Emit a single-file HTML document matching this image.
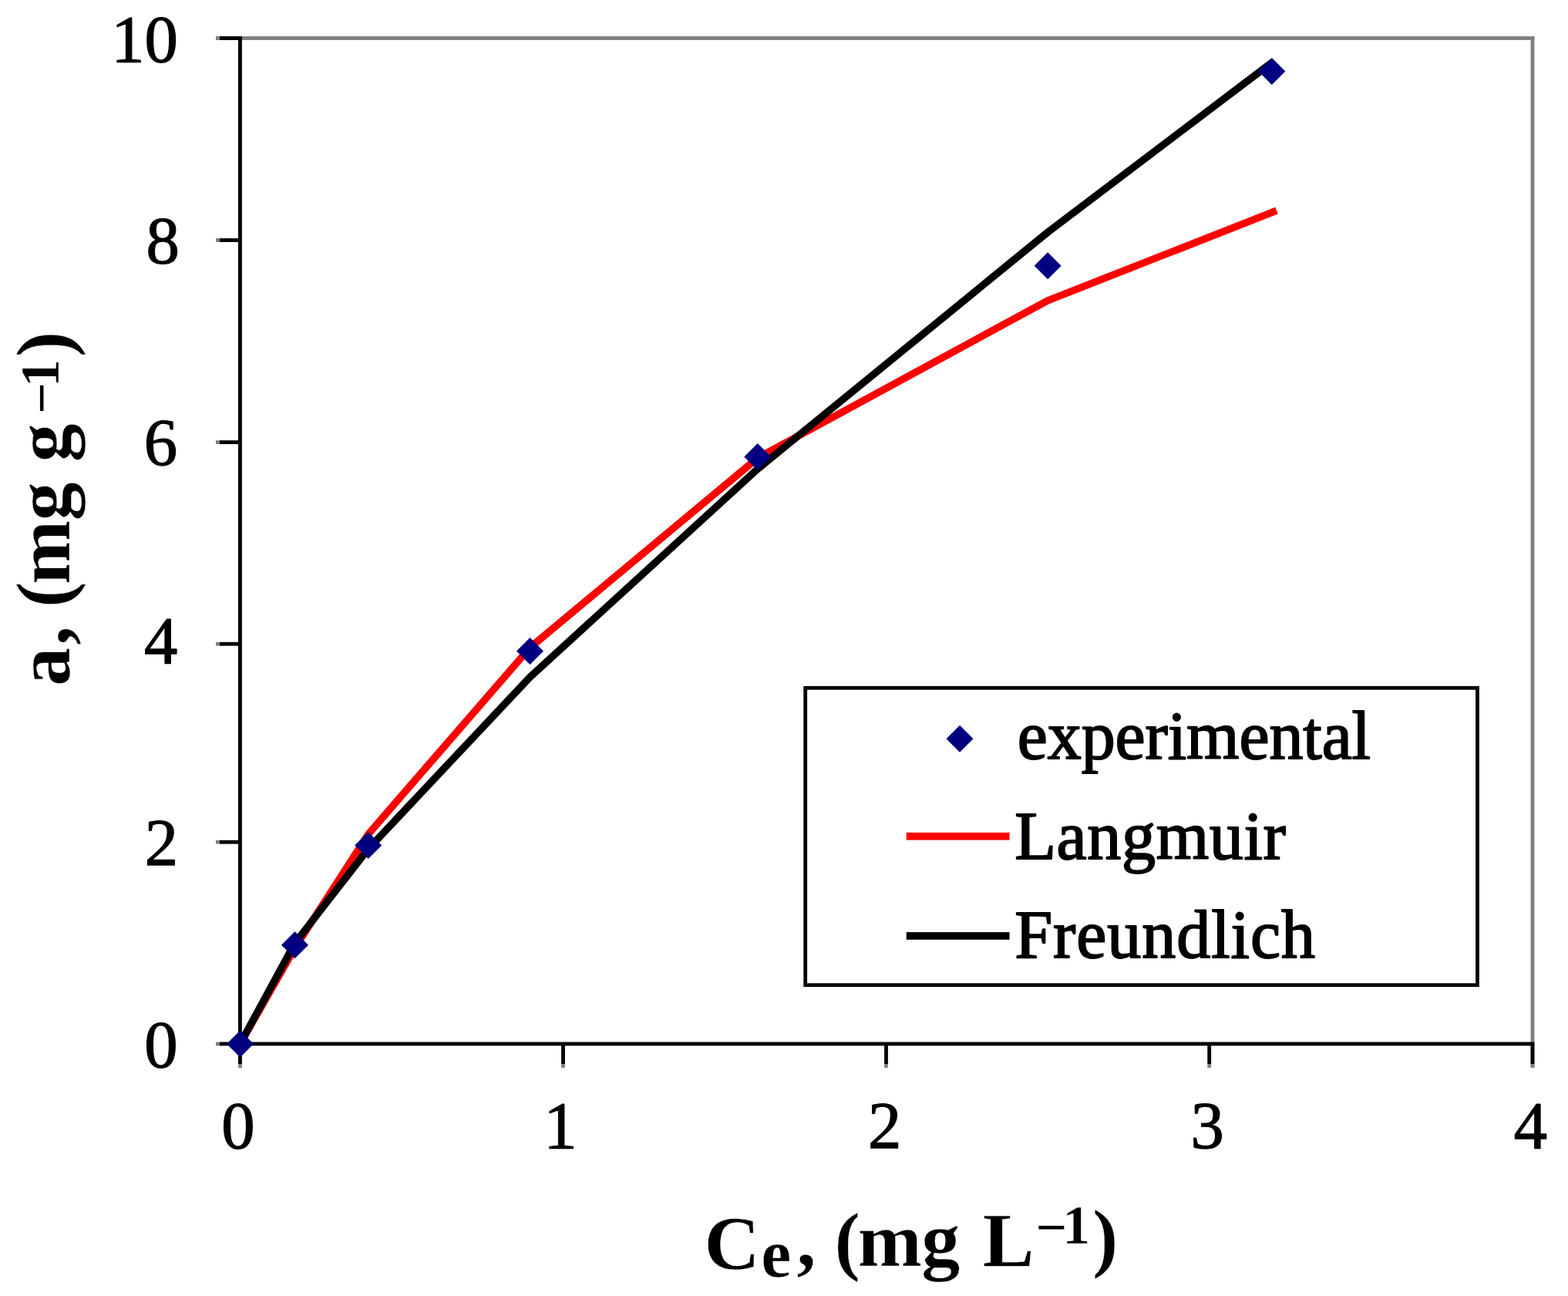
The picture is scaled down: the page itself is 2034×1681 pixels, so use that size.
<!DOCTYPE html>
<html lang="en"><head><meta charset="utf-8"><title>Adsorption isotherm</title>
<style>
html,body{margin:0;padding:0;background:#fff;}
body{width:2034px;height:1681px;overflow:hidden;}
svg{display:block;}
text{font-family:"Liberation Serif","DejaVu Serif",serif;fill:#000;stroke:#000;stroke-linejoin:round;}
.t{font-size:86.7px;stroke-width:1.25px;}
.l{font-size:88px;stroke-width:1.9px;}
.b{font-size:100px;font-weight:bold;stroke:#fff;stroke-width:0.4px;}
.s{font-size:72px;}
.e{font-size:88px;}
</style></head><body>
<svg width="2034" height="1681" viewBox="0 0 2034 1681">
<rect x="0" y="0" width="2034" height="1681" fill="#fff"/>
<g fill="#808080">
<rect x="280" y="47.1" width="1710.4" height="4.85"/>
<rect x="1985.6" y="47.1" width="4.8" height="1337.9"/>
<rect x="280" y="47.1" width="6" height="4.85"/>
<rect x="280" y="309.1" width="6" height="4.85"/>
<rect x="280" y="571.2" width="6" height="4.85"/>
<rect x="280" y="832.8" width="6" height="4.85"/>
<rect x="280" y="1089.8" width="6" height="4.85"/>
<rect x="280" y="1351.6" width="6" height="4.85"/>
<rect x="309.1" y="1379" width="4.8" height="6"/>
<rect x="728.1" y="1379" width="4.8" height="6"/>
<rect x="1147.1" y="1379" width="4.8" height="6"/>
<rect x="1566.3" y="1379" width="4.8" height="6"/>
<rect x="1985.6" y="1379" width="4.8" height="6"/>
</g>
<g fill="#000">
<rect x="308.95" y="47.1" width="4.9" height="1332.9"/>
<rect x="285" y="1351.55" width="1705.4" height="4.85"/>
<rect x="285" y="47.1" width="26" height="4.85"/>
<rect x="285" y="309.1" width="26" height="4.85"/>
<rect x="285" y="571.2" width="26" height="4.85"/>
<rect x="285" y="832.8" width="26" height="4.85"/>
<rect x="285" y="1089.8" width="26" height="4.85"/>
<rect x="728.1" y="1354" width="4.8" height="26"/>
<rect x="1147.1" y="1354" width="4.8" height="26"/>
<rect x="1566.3" y="1354" width="4.8" height="26"/>
<rect x="1985.6" y="1354" width="4.8" height="26"/>
</g>
<polyline points="311.5,1354.0 382.5,1229.5 477.7,1082.0 687.5,840.0 982.9,594.0 1359.1,389.8 1656.0,273.2" fill="none" stroke="#ff0000" stroke-width="9.5" stroke-linejoin="round" stroke-linecap="butt"/>
<polyline points="311.5,1354.0 382.5,1223.3 477.7,1101.2 687.5,878.2 982.8,608.3 1359.1,301.2 1650.2,80.9" fill="none" stroke="#000" stroke-width="9.5" stroke-linejoin="round" stroke-linecap="butt"/>
<g fill="#000080">
<polygon points="311.5,1336.5 329.0,1354.0 311.5,1371.5 294.0,1354.0"/>
<polygon points="382.5,1208.2 400.0,1225.7 382.5,1243.2 365.0,1225.7"/>
<polygon points="477.7,1079.0 495.2,1096.5 477.7,1114.0 460.2,1096.5"/>
<polygon points="687.5,827.1 705.0,844.6 687.5,862.1 670.0,844.6"/>
<polygon points="982.8,574.9 1000.3,592.4 982.8,609.9 965.3,592.4"/>
<polygon points="1359.1,327.3 1376.6,344.8 1359.1,362.3 1341.6,344.8"/>
<polygon points="1649.8,74.9 1667.3,92.4 1649.8,109.9 1632.3,92.4"/>
</g>
<rect x="1044.7" y="892.3" width="871.8" height="385.4" fill="#fff" stroke="#000" stroke-width="4.8"/>
<g fill="#000080"><polygon points="1245.0,940.7 1262.5,958.2 1245.0,975.7 1227.5,958.2"/></g>
<rect x="1175.7" y="1079.9" width="133.8" height="9.7" fill="#ff0000"/>
<rect x="1175.7" y="1209.1" width="133.8" height="9.7" fill="#000"/>
<text class="l" x="1319.8" y="984.4" letter-spacing="-0.1">experimental</text>
<text class="l" x="1316.2" y="1113.5" letter-spacing="0.66">Langmuir</text>
<text class="l" x="1316.2" y="1241.6" letter-spacing="0.95">Freundlich</text>
<text class="t" x="144.2" y="79.7">10</text>
<text class="t" x="189.5" y="341.4">8</text>
<text class="t" x="186.7" y="603.0">6</text>
<text class="t" x="187.0" y="860.4">4</text>
<text class="t" x="187.7" y="1122.3">2</text>
<text class="t" x="187.2" y="1383.7">0</text>
<text class="t" x="287.3" y="1488.7">0</text>
<text class="t" x="705.2" y="1489.1">1</text>
<text class="t" x="1125.9" y="1489.1">2</text>
<text class="t" x="1544.5" y="1488.7">3</text>
<text class="t" x="1963.7" y="1489.1">4</text>
<text class="b" x="913.4 987.2 1033.5 1058 1082.4 1112.5 1195.3 1245 1274.7 1343.3 1378.2 1417" y="1646 1655.6 1642 1642 1642.3 1642 1642 1642 1642 1616 1613.3 1637.6">C<tspan class="e">e</tspan>, (mg L<tspan class="s">−1</tspan>)</text>
<text class="b" transform="translate(90,900) rotate(-90)" x="10.3 63 88 112 141.9 224.7 275 300.7 363.1 398 436.7" y="0 0 0 0 0 0 0 0 -12.2 -14.5 0">a, (mg g<tspan class="s">−1</tspan>)</text>
</svg></body></html>
